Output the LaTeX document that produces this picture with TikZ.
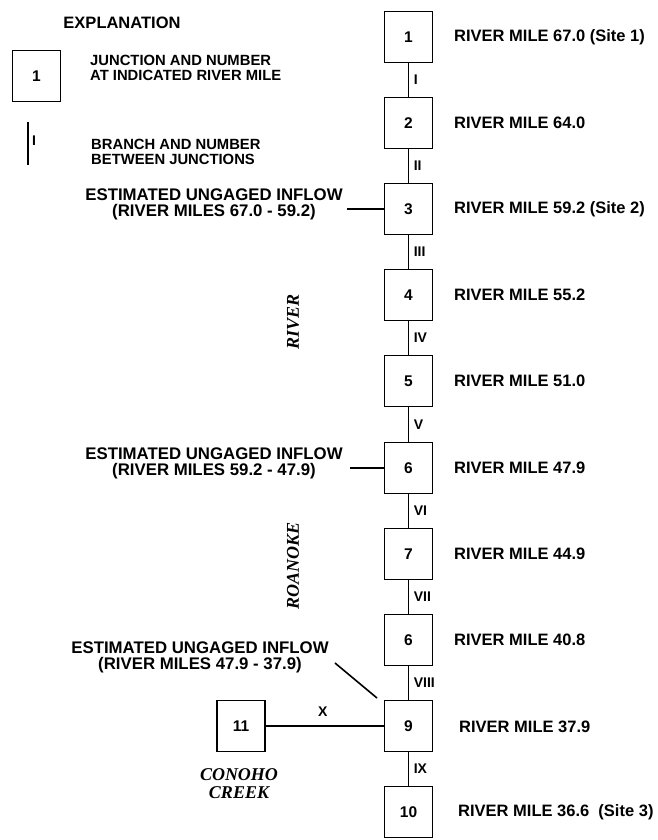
\documentclass[tikz,border=0pt]{standalone}
\usepackage{fontspec}
\setmainfont{Liberation Sans}
\newfontfamily\serifbi{Liberation Serif}
\begin{document}
\begin{tikzpicture}[x=1pt,y=-1pt,
  junction/.style={draw,line width=1.6pt,minimum width=48pt,minimum height=51pt,inner sep=0pt,
    font=\bfseries\fontsize{15.5}{15}\selectfont},
  branch/.style={line width=1.6pt},
  rlabel/.style={anchor=west,inner sep=0pt,font=\bfseries\fontsize{16.5}{17}\selectfont},
  roman/.style={anchor=west,inner sep=0pt,font=\bfseries\fontsize{14}{14}\selectfont},
  inflow/.style={align=center,inner sep=0pt,font=\bfseries\fontsize{16.8}{16}\selectfont},
  legtext/.style={anchor=west,align=left,inner sep=0pt,font=\bfseries\fontsize{14.8}{15}\selectfont},
  rivername/.style={inner sep=0pt,font=\serifbi\bfseries\itshape\fontsize{18}{18}\selectfont}]
\useasboundingbox (0,0) rectangle (657,840);
% legend
\node[inner sep=0pt,font=\bfseries\fontsize{16.5}{17}\selectfont] (expl) at (122,23) {EXPLANATION};
\node[junction] (leg1) at (36.5,76) {1};
\node[legtext] (legt1) at (90,68) {JUNCTION AND NUMBER\\AT INDICATED RIVER MILE};
\coordinate (legA) at (28,122);
\coordinate (legB) at (28,165);
\draw[branch] (legA) -- (legB);
\node[roman] (legI) at (32,141) {I};
\node[legtext] (legt2) at (91,152) {BRANCH AND NUMBER\\BETWEEN JUNCTIONS};
% main column
\foreach \n/\y in {1/37,2/123,3/209,4/295,5/381,6/468,7/554,8/640,9/726,10/812}{
  \node[junction] (b\n) at (408.5,\y) {\ifnum\n=8 6\else\n\fi};
}
\node[junction] (b11) at (241,726) {11};
\foreach \a/\b/\r in {1/2/I,2/3/II,3/4/III,4/5/IV,5/6/V,6/7/VI,7/8/VII,8/9/VIII,9/10/IX}{
  \draw[branch] (b\a) -- (b\b) node[roman,midway,xshift=4.5pt] (r\a) {\r};
}
\draw[branch] (b11) -- (b9);
\node[roman] (rX) at (318,712) {X};
% right labels
\node[rlabel] (m1) at (454,37) {RIVER MILE 67.0 (Site 1)};
\node[rlabel] (m2) at (454,123) {RIVER MILE 64.0};
\node[rlabel] (m3) at (454,209) {RIVER MILE 59.2 (Site 2)};
\node[rlabel] (m4) at (454,295) {RIVER MILE 55.2};
\node[rlabel] (m5) at (454,381) {RIVER MILE 51.0};
\node[rlabel] (m6) at (454,468) {RIVER MILE 47.9};
\node[rlabel] (m7) at (454,554) {RIVER MILE 44.9};
\node[rlabel] (m8) at (454,640) {RIVER MILE 40.8};
\node[rlabel] (m9) at (459,727) {RIVER MILE 37.9};
\node[rlabel] (m10) at (458,812) {RIVER MILE 36.6\ \ (Site 3)};
% inflow labels
\node[inflow] (in1) at (214,204) {ESTIMATED UNGAGED INFLOW\\(RIVER MILES 67.0 - 59.2)};
\coordinate (in1e) at (347,209);
\draw[branch] (in1e) -- (b3.west);
\node[inflow] (in2) at (214,463) {ESTIMATED UNGAGED INFLOW\\(RIVER MILES 59.2 - 47.9)};
\coordinate (in2e) at (350,468);
\draw[branch] (in2e) -- (b6.west);
\node[inflow] (in3) at (200,657) {ESTIMATED UNGAGED INFLOW\\(RIVER MILES 47.9 - 37.9)};
\coordinate (in3s) at (335,663);
\coordinate (in3e) at (377,698);
\draw[branch] (in3s) -- (in3e);
% names
\node[rivername,rotate=90] (river) at (293,322) {RIVER};
\node[rivername,rotate=90] (roanoke) at (293,566) {ROANOKE};
\node[rivername,align=center] (conoho) at (239,784) {CONOHO\\CREEK};
\end{tikzpicture}
\end{document}
